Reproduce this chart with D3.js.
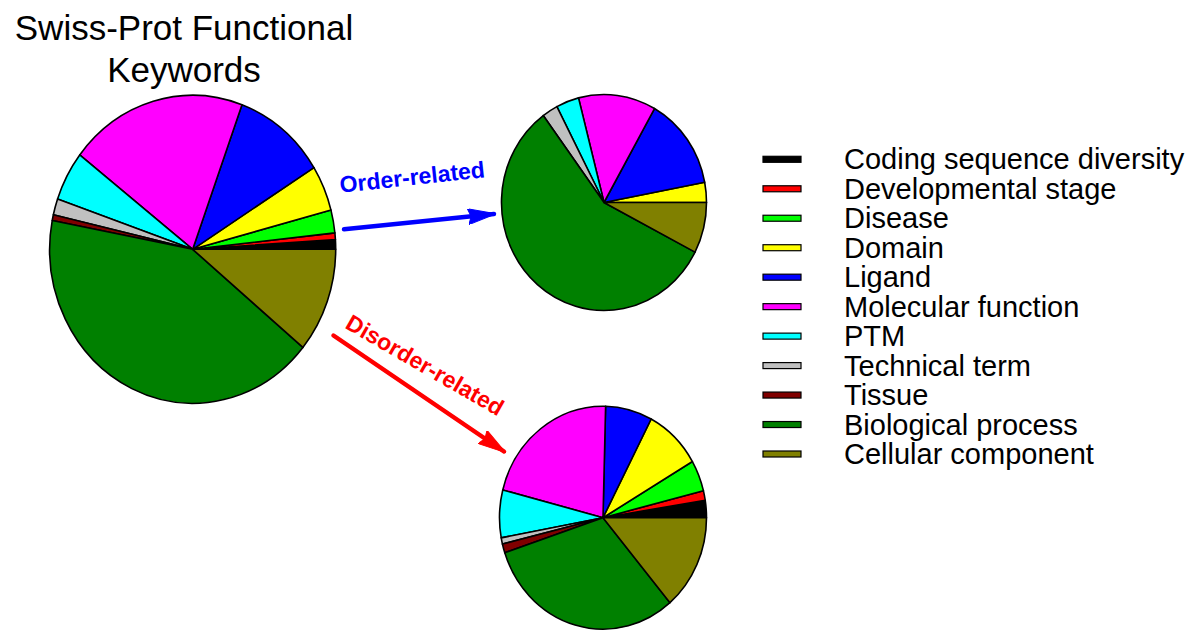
<!DOCTYPE html>
<html><head><meta charset="utf-8">
<script src="https://cdn.jsdelivr.net/npm/d3@7"></script>
<style>body{margin:0;background:#fff}svg{display:block}</style>
</head><body>
<svg id="c" width="1200" height="639"></svg>
<script>
const categories = ["Coding sequence diversity","Developmental stage","Disease","Domain","Ligand","Molecular function","PTM","Technical term","Tissue","Biological process","Cellular component"];
const colors = ["#000000","#ff0000","#00ff00","#ffff00","#0000ff","#ff00ff","#00ffff","#c0c0c0","#800000","#008000","#808000"];
const allValues      = [1.0, 0.7, 2.4, 4.8, 10.5, 20.1, 5.2, 1.7, 0.6, 42.0, 11.0];
const orderValues    = [0, 0, 0, 3.0, 13.8, 12.2, 3.6, 2.5, 0, 57.3, 7.6];
const disorderValues = [2.5, 1.4, 4.5, 8.9, 7.3, 21.4, 6.9, 0.9, 1.3, 31.1, 13.8];
const titleLines = ["Swiss-Prot Functional","Keywords"];

const svg = d3.select("#c");
const font = "'Liberation Sans', Arial, sans-serif";

const pie = d3.pie().sort(null).value(d=>d.v)
  .startAngle(Math.PI/2).endAngle(Math.PI/2 - 2*Math.PI);

function drawPie(values, cx, cy, rx, ry){
  const g = svg.append("g").attr("transform", `translate(${cx},${cy}) scale(1,${ry/rx})`);
  const arc = d3.arc().innerRadius(0).outerRadius(rx);
  g.selectAll("path").data(pie(values.map((v,i)=>({v,i}))).filter(d=>d.data.v>0))
    .join("path").attr("d", arc)
    .attr("fill", d=>colors[d.data.i])
    .attr("stroke", "#000").attr("stroke-width", 1.6)
    .attr("stroke-linejoin","round")
    .attr("vector-effect","non-scaling-stroke");
}
drawPie(allValues, 192.7, 249.3, 143, 154);
drawPie(orderValues, 604, 202.5, 102.5, 108);
drawPie(disorderValues, 603, 517.7, 103.5, 111.5);

// title
svg.append("text").attr("font-family", font).attr("font-size", 35).attr("text-anchor","middle")
  .selectAll("tspan").data(titleLines).join("tspan")
  .attr("x", 184).attr("y", (d,i)=> 40 + i*42).text(d=>d);

// arrows
const defs = svg.append("defs");
function marker(id, color){
  defs.append("marker").attr("id", id).attr("viewBox","0 0 28 16")
    .attr("refX", 26).attr("refY", 8).attr("markerWidth", 28).attr("markerHeight", 16)
    .attr("markerUnits","userSpaceOnUse").attr("orient","auto")
    .append("path").attr("d","M0,0 L28,8 L0,16 L3,8 Z").attr("fill", color)
    .attr("stroke", color).attr("stroke-width",1).attr("stroke-linejoin","round");
}
marker("mb","#0000ff"); marker("mr","#ff0000");
svg.append("line").attr("x1",344).attr("y1",229.3).attr("x2",494).attr("y2",214)
  .attr("stroke","#0000ff").attr("stroke-width",4.5).attr("stroke-linecap","round").attr("marker-end","url(#mb)");
svg.append("line").attr("x1",333.5).attr("y1",335.5).attr("x2",504).attr("y2",451.5)
  .attr("stroke","#ff0000").attr("stroke-width",4.5).attr("stroke-linecap","round").attr("marker-end","url(#mr)");

svg.append("text").attr("font-family", font).attr("font-weight","bold").attr("font-size", 23)
  .attr("fill","#0000ff").attr("text-anchor","middle")
  .attr("transform","translate(413,185) rotate(-6.2)").text("Order-related");
svg.append("text").attr("font-family", font).attr("font-weight","bold").attr("font-size", 23)
  .attr("fill","#ff0000").attr("text-anchor","middle")
  .attr("transform","translate(421,372) rotate(30)").text("Disorder-related");

// legend
const leg = svg.append("g");
const rowY = d3.scalePoint().domain(categories).range([159.3, 454]);
const rows = leg.selectAll("g").data(categories).join("g")
  .attr("transform", d=>`translate(0,${rowY(d)})`);
rows.append("rect").attr("x",763).attr("y",-3).attr("width",38).attr("height",6)
  .attr("fill",(d,i)=>colors[i]).attr("stroke","#000").attr("stroke-width",1.2);
rows.append("text").attr("x",844).attr("y",10).attr("font-family",font).attr("font-size",29)
  .text(d=>d);
</script>
</body></html>
